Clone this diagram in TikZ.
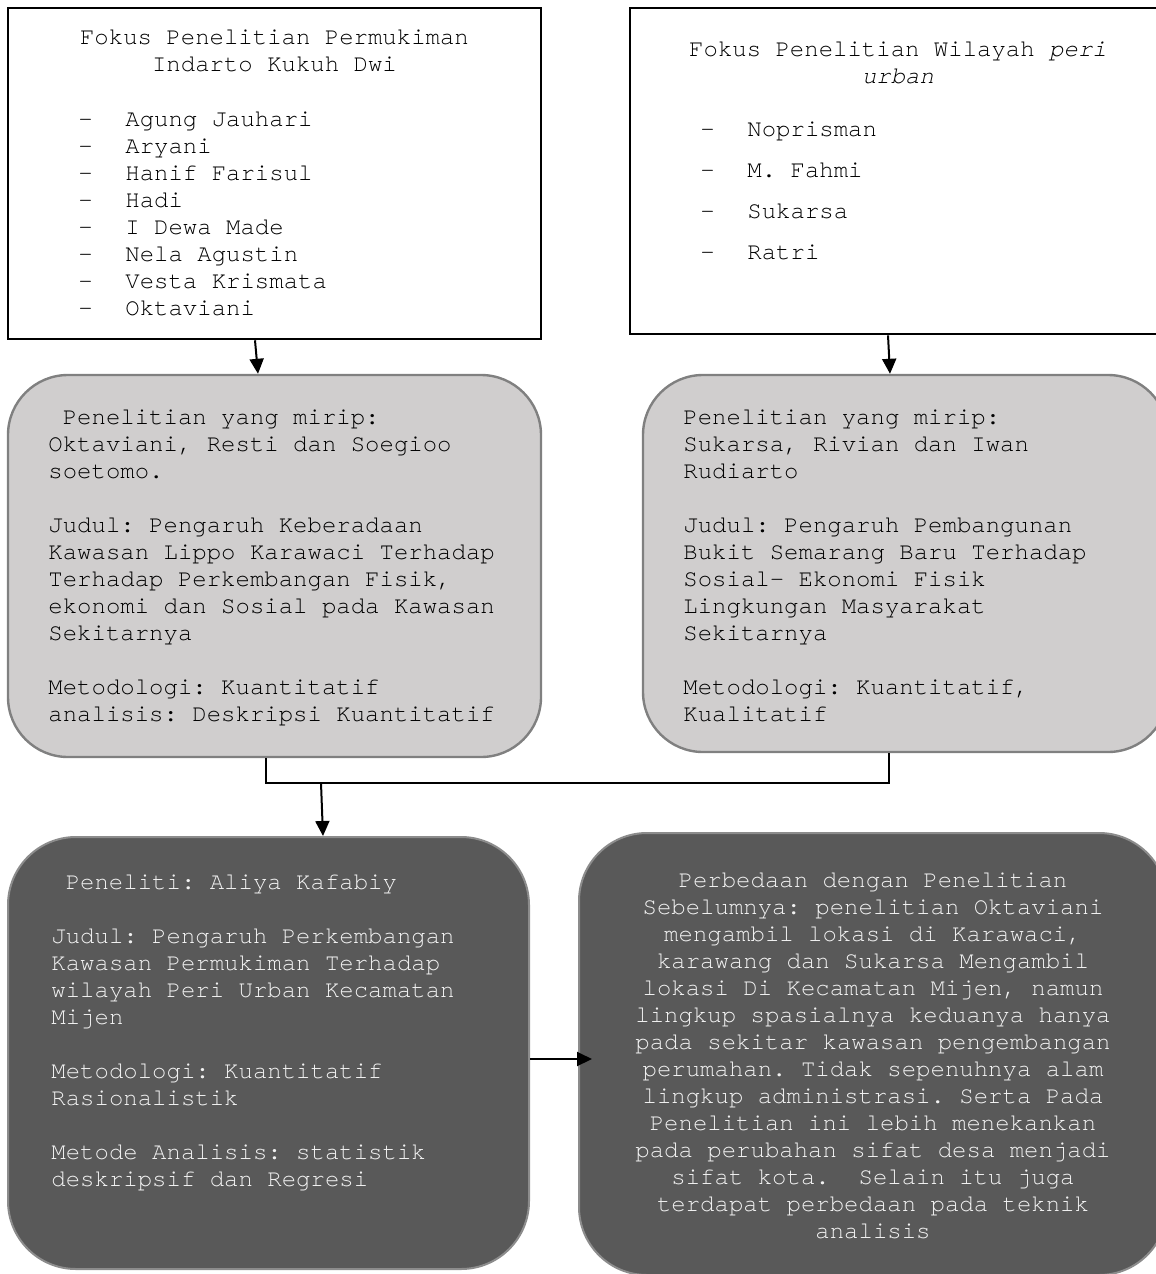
\documentclass[tikz,border=0pt]{standalone}
\usepackage{fontspec}
\setmonofont{TeX Gyre Cursor}
\usepackage{tikz}
\usetikzlibrary{arrows,arrows.meta,positioning,calc}
\usepackage{xcolor}
\definecolor{lbgray}{RGB}{208,206,206}
\definecolor{lbedge}{RGB}{128,128,128}
\definecolor{dkgray}{RGB}{89,89,89}
\definecolor{dkedge}{RGB}{140,140,140}
\definecolor{dktext}{RGB}{242,242,242}
\tikzstyle{arrow} = [line width=1pt,->,>={Triangle[length=7.5pt,width=7pt]}]
\tikzstyle{link} = [line width=0.6pt]
\tikzstyle{focusbox} = [draw, line width=1.3pt, inner sep=0pt]
\tikzstyle{simbox} = [draw=lbedge, fill=lbgray, line width=1.2pt, rounded corners=30pt, inner sep=0pt]
\tikzstyle{ownbox} = [draw=dkedge, fill=dkgray, line width=1pt, rounded corners=34pt, inner sep=0pt]
\tikzstyle{txt} = [font={\ttfamily\fontsize{12pt}{13.5pt}\selectfont\spaceskip=7.2pt\relax\xspaceskip=7.2pt\relax}, inner sep=0pt, text width=300pt, align=flush left, anchor=base west]
\tikzstyle{txtc} = [txt, align=flush center, anchor=base]
\newcommand{\dashitem}[1]{\makebox[23.5pt][l]{-}#1}

\begin{document}
\begin{tikzpicture}[x=0.5pt, y=-0.5pt]
    \useasboundingbox (0,0) rectangle (1156,1274);

    % Focus boxes
    \node[focusbox, minimum width=266.5pt, minimum height=165.5pt] (b1) at (274.5,173.5) {};
    \node[focusbox, minimum width=268pt, minimum height=163pt] (b2) at (898,171) {};

    \node[txtc] (b1title) at (274.5,44) {Fokus Penelitian Permukiman\\ Indarto Kukuh Dwi};
    \node[txt] (b1list) at (78,126) {\dashitem{Agung Jauhari}\\ \dashitem{Aryani}\\
        \dashitem{Hanif Farisul}\\ \dashitem{Hadi}\\ \dashitem{I Dewa Made}\\
        \dashitem{Nela Agustin}\\ \dashitem{Vesta Krismata}\\ \dashitem{Oktaviani}};

    \node[txtc] (b2title) at (898,56) {Fokus Penelitian Wilayah \textit{peri}\\ \textit{urban}};
    \node[txt] (b2list) at (700,136) {\dashitem{Noprisman}\\[7pt] \dashitem{M. Fahmi}\\[7pt]
        \dashitem{Sukarsa}\\[7pt] \dashitem{Ratri}};

    % Similar research
    \node[simbox, minimum width=266.5pt, minimum height=191pt] (g1) at (274.5,566) {};
    \node[simbox, minimum width=262.5pt, minimum height=188.5pt] (g2) at (905.5,563.5) {};

    \node[txt] (g1txt) at (48,424) {\hspace*{7.2pt}Penelitian yang mirip:\\
        Oktaviani, Resti dan Soegioo\\ soetomo.\\[13.5pt]
        Judul: Pengaruh Keberadaan\\ Kawasan Lippo Karawaci Terhadap\\
        Terhadap Perkembangan Fisik,\\ ekonomi dan Sosial pada Kawasan\\
        Sekitarnya\\[13.5pt]
        Metodologi: Kuantitatif\\ analisis: Deskripsi Kuantitatif};
    \node[txt] (g2txt) at (683,424) {Penelitian yang mirip:\\
        Sukarsa, Rivian dan Iwan\\ Rudiarto\\[13.5pt]
        Judul: Pengaruh Pembangunan\\ Bukit Semarang Baru Terhadap\\
        Sosial- Ekonomi Fisik\\ Lingkungan Masyarakat\\ Sekitarnya\\[13.5pt]
        Metodologi: Kuantitatif,\\ Kualitatif};

    % This research
    \node[ownbox, minimum width=260.5pt, minimum height=216pt] (d1) at (268.5,1053) {};
    \node[ownbox, minimum width=294pt, minimum height=221pt] (d2) at (873,1054) {};

    \node[txt, text=dktext] (d1txt) at (51,889) {\hspace*{7.2pt}Peneliti: Aliya Kafabiy\\[13.5pt]
        Judul: Pengaruh Perkembangan\\ Kawasan Permukiman Terhadap\\
        wilayah Peri Urban Kecamatan\\ Mijen\\[13.5pt]
        Metodologi: Kuantitatif\\ Rasionalistik\\[13.5pt]
        Metode Analisis: statistik\\ deskripsif dan Regresi};
    \node[txtc, text=dktext] (d2txt) at (873,887) {Perbedaan dengan Penelitian\\
        Sebelumnya: penelitian Oktaviani\\ mengambil lokasi di Karawaci,\\
        karawang dan Sukarsa Mengambil\\ lokasi Di Kecamatan Mijen, namun\\
        lingkup spasialnya keduanya hanya\\ pada sekitar kawasan pengembangan\\
        perumahan. Tidak sepenuhnya alam\\ lingkup administrasi. Serta Pada\\
        Penelitian ini lebih menekankan\\ pada perubahan sifat desa menjadi\\
        sifat kota.\ \ Selain itu juga\\ terdapat perbedaan pada teknik\\ analisis};

    % Arrows
    \draw[arrow] (b1.south -| 255,0) -- (g1.north -| 258,0);
    \draw[arrow] (b2.south -| 888,0) -- (g2.north -| 890,0);

    \coordinate (join) at (321,783);
    \draw[link] (g1.south -| 266,0) |- (join) -| (g2.south -| 889,0);
    \draw[arrow] (join) -- (d1.north -| 323,0);

    \draw[arrow] (d1.east |- 0,1059) -- ($(d2.west |- 0,1059)+(14,0)$);
\end{tikzpicture}
\end{document}
